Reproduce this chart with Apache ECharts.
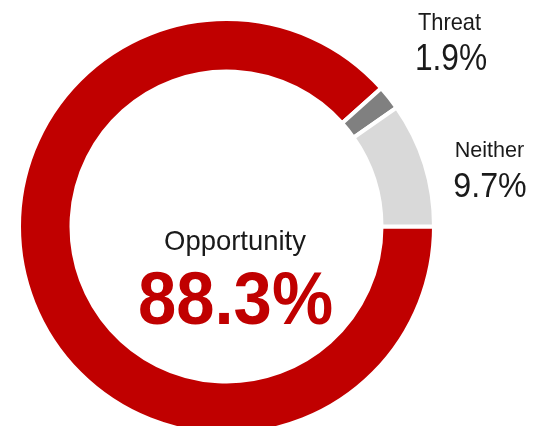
<!DOCTYPE html>
<html>
<head>
<meta charset="utf-8">
<script src="https://cdn.jsdelivr.net/npm/echarts@6/dist/echarts.min.js"></script>
<style>
  html, body { margin: 0; padding: 0; background: #fff; }
  #chart { width: 534px; height: 426px; }
</style>
</head>
<body>
<div id="chart"></div>
<script>
// Survey answer shares (percent), clockwise from 3 o'clock
const categories = ['Opportunity', 'Threat', 'Neither'];
const shares = [88.3, 1.9, 9.7];
const sliceColors = ['#C00000', '#808080', '#D9D9D9'];

const FONT = '"Liberation Sans", Arial, sans-serif';
const fmt = v => v.toFixed(1) + '%';

// slightly condensed text placed at (x, y), centred on the glyph middle
function label(text, x, y, size, sx, weight, color) {
  return {
    type: 'text', x: x, y: y, scaleX: sx, silent: true,
    style: {
      text: text, x: 0, y: 0, align: 'center', verticalAlign: 'middle',
      font: (weight || 'normal') + ' ' + size + 'px ' + FONT,
      fill: color || '#1a1a1a'
    }
  };
}

const chart = echarts.init(document.getElementById('chart'), null, { renderer: 'canvas' });

chart.setOption({
  animation: false,
  backgroundColor: '#ffffff',
  series: [{
    type: 'pie',
    center: [226.5, 226.5],
    radius: [155, 207.5],
    startAngle: 0,
    clockwise: true,
    silent: true,
    label: { show: false },
    labelLine: { show: false },
    itemStyle: { borderColor: '#ffffff', borderWidth: 4 },
    data: categories.map((name, i) => ({
      name: name,
      value: shares[i],
      itemStyle: { color: sliceColors[i] }
    }))
  }],
  graphic: [
    label(categories[0], 235, 242, 28, 0.98),
    label(fmt(shares[0]), 235.5, 304, 74, 0.93, 'bold', '#C00000'),
    label(categories[1], 449.5, 23.5, 24, 0.91),
    label(fmt(shares[1]), 451, 60, 36, 0.88),
    label(categories[2], 489.5, 150.5, 22.5, 0.96),
    label(fmt(shares[2]), 490, 187.5, 35, 0.92)
  ]
});
</script>
</body>
</html>
